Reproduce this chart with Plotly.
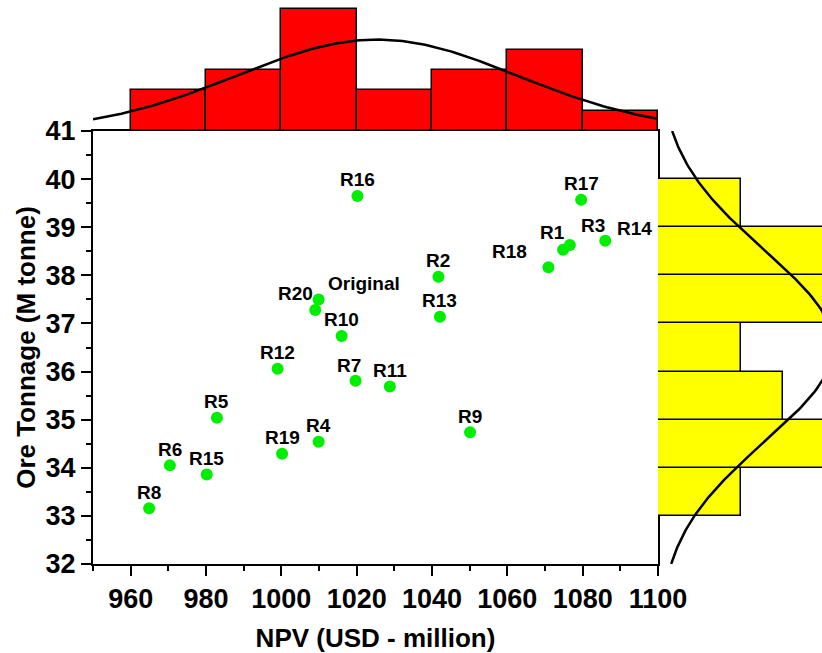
import numpy as np
import plotly.graph_objects as go

# ---------------- data ----------------
labels = ["Original", "R1", "R2", "R3", "R4", "R5", "R6", "R7", "R8", "R9", "R10",
          "R11", "R12", "R13", "R14", "R15", "R16", "R17", "R18", "R19", "R20"]
npv = [1009.9, 1074.8, 1041.7, 1076.6, 1009.9, 982.9, 970.4, 1019.7, 964.9, 1050.1, 1016.0,
       1028.8, 999.0, 1042.1, 1086.0, 980.2, 1020.2, 1079.6, 1070.9, 1000.2, 1009.0]
ore = [37.50, 38.53, 37.97, 38.63, 34.54, 35.04, 34.05, 35.81, 33.16, 34.74, 36.74,
       35.69, 36.06, 37.14, 38.72, 33.86, 39.65, 39.57, 38.17, 34.29, 37.28]

x_ticks = [960, 980, 1000, 1020, 1040, 1060, 1080, 1100]
y_ticks = [32, 33, 34, 35, 36, 37, 38, 39, 40, 41]

# label offsets in pixels (dx right, dy up) -- styling only
label_offset = {
    "Original": (45, 15), "R20": (-20, 15), "R18": (-39, 15), "R1": (-11, 16),
    "R3": (23, 19), "R14": (29, 11), "R7": (-7, 14),
}

FONT = "Liberation Sans, Arial, sans-serif"

# figure geometry (page body margin removed via post_script)
W, H = 822, 653
ML, MB = 93, 89
PW, PH = W - ML, H - MB          # 729 x 564
MAIN_W, MAIN_H = 565, 433

fig = go.Figure()

# top histogram (NPV)
fig.add_trace(go.Histogram(
    x=npv, xaxis="x2", yaxis="y2",
    xbins=dict(start=960, end=1100, size=20),
    marker=dict(color="#ff0000", line=dict(color="black", width=1.5)),
    showlegend=False, hoverinfo="skip"))

# right histogram (Ore)
fig.add_trace(go.Histogram(
    y=ore, xaxis="x3", yaxis="y", orientation="h",
    ybins=dict(start=33, end=40, size=1),
    marker=dict(color="#ffff00", line=dict(color="black", width=1.5)),
    showlegend=False, hoverinfo="skip"))

# normal fit curves (fitted from the data)
xa = np.array(npv)
ya = np.array(ore)
mx, sx = xa.mean(), xa.std(ddof=1)
my, sy = ya.mean(), ya.std(ddof=1)
gx = np.linspace(950, 1100, 200)
gy = np.linspace(32, 41, 200)
fx = len(xa) * 20 * np.exp(-0.5 * ((gx - mx) / sx) ** 2) / (sx * np.sqrt(2 * np.pi))
fy = len(ya) * 1 * np.exp(-0.5 * ((gy - my) / sy) ** 2) / (sy * np.sqrt(2 * np.pi))

fig.add_trace(go.Scatter(x=gx, y=fx, xaxis="x2", yaxis="y2", mode="lines",
                         line=dict(color="black", width=2.5), showlegend=False,
                         hoverinfo="skip"))
fig.add_trace(go.Scatter(x=fy, y=gy, xaxis="x3", yaxis="y", mode="lines",
                         line=dict(color="black", width=2.5), showlegend=False,
                         hoverinfo="skip"))

# scatter
fig.add_trace(go.Scatter(x=npv, y=ore, mode="markers", text=labels,
                         marker=dict(color="#00ee00", size=12),
                         showlegend=False))

for lab, xv, yv in zip(labels, npv, ore):
    dx, dy = label_offset.get(lab, (0, 15))
    fig.add_annotation(x=xv, y=yv, xref="x", yref="y", text=lab, showarrow=False,
                       xshift=dx, yshift=dy + 1,
                       font=dict(family=FONT, size=19, color="black", weight="bold"))

main_x_dom = [0, MAIN_W / PW]
main_y_dom = [0, MAIN_H / PH]

axis_common = dict(showgrid=False, zeroline=False, showline=True, linecolor="black",
                   linewidth=2, mirror=True, ticks="outside", ticklen=10, tickwidth=2,
                   tickcolor="black", automargin=False,
                   tickfont=dict(family=FONT, size=27, color="black", weight="bold"))

fig.update_layout(
    width=W, height=H,
    margin=dict(l=ML, r=0, t=0, b=MB),
    paper_bgcolor="white", plot_bgcolor="white",
    bargap=0,
    xaxis=dict(domain=main_x_dom, range=[950, 1100], tickvals=x_ticks,
               minor=dict(dtick=10, tick0=950, ticks="outside", ticklen=5,
                          tickwidth=2, tickcolor="black"),
               title=dict(text="NPV (USD - million)", standoff=20,
                          font=dict(family=FONT, size=26, color="black", weight="bold")),
               **axis_common),
    yaxis=dict(domain=main_y_dom, range=[32, 41], tickvals=y_ticks,
               minor=dict(dtick=0.5, tick0=32, ticks="outside", ticklen=5,
                          tickwidth=2, tickcolor="black"),
               title=dict(text="Ore Tonnage (M tonne)", standoff=2,
                          font=dict(family=FONT, size=26, color="black", weight="bold")),
               **axis_common),
    xaxis2=dict(domain=main_x_dom, range=[950, 1100], anchor="y2", visible=False),
    yaxis2=dict(domain=[MAIN_H / PH, 1], range=[0, (PH - MAIN_H) / 20.3], anchor="x2",
                visible=False),
    xaxis3=dict(domain=[MAIN_W / PW, 1], range=[0, (PW - MAIN_W) / 41.7], anchor="y",
                visible=False),
)

fig.write_html(
    "out.html",
    config={"displayModeBar": False},
    post_script="document.body.style.margin='0';document.body.style.overflow='hidden';",
)
